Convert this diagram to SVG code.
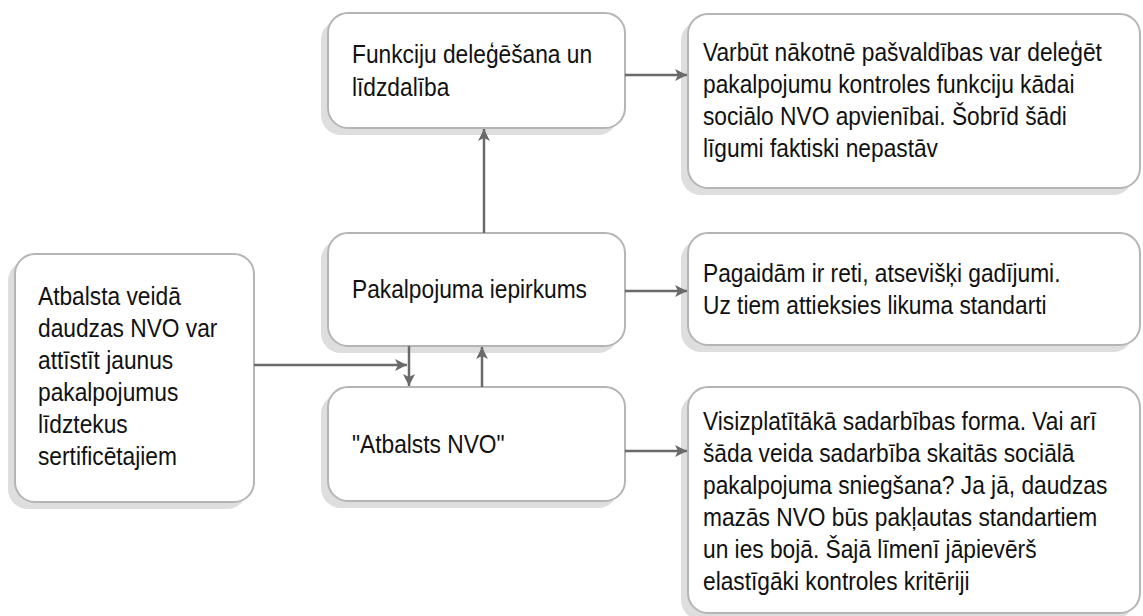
<svg xmlns="http://www.w3.org/2000/svg" width="1143" height="616" viewBox="0 0 1143 616">
<defs>
<style>
.shadow{fill:#dedede;stroke:none}
.box{fill:#ffffff;stroke:#b5b5b5;stroke-width:2}
.t{font-family:"Liberation Sans",Arial,sans-serif;font-size:26px;fill:#111111}
.c{stroke:#6a6a6a;stroke-width:2.5;fill:none}
</style>
<marker id="ah" viewBox="0 0 12 12" refX="12" refY="6" markerWidth="12" markerHeight="12" markerUnits="userSpaceOnUse" orient="auto">
<path d="M0,0 L12,6 L0,12 L3,6 Z" fill="#6a6a6a"/>
</marker>
</defs>
<rect width="1143" height="616" fill="#ffffff"/>

<g id="n-left">
<rect class="shadow" x="8" y="261" width="239" height="248" rx="20"/>
<rect class="box" x="15" y="254" width="239" height="248" rx="20"/>
<g transform="translate(38,0) scale(0.875,1)">
<text class="t" x="0" y="305"><tspan x="0">Atbalsta veidā</tspan><tspan x="0" dy="32">daudzas NVO var</tspan><tspan x="0" dy="32">attīstīt jaunus</tspan><tspan x="0" dy="32">pakalpojumus</tspan><tspan x="0" dy="32">līdztekus</tspan><tspan x="0" dy="32">sertificētajiem</tspan></text>
</g>
</g>

<g id="n-funkciju">
<rect class="shadow" x="321" y="20" width="297" height="115" rx="20"/>
<rect class="box" x="328" y="13" width="297" height="115" rx="20"/>
<g transform="translate(352,0) scale(0.875,1)">
<text class="t" x="0" y="63"><tspan x="0">Funkciju deleģēšana un</tspan><tspan x="0" dy="33">līdzdalība</tspan></text>
</g>
</g>

<g id="n-pakalpojuma">
<rect class="shadow" x="321" y="240" width="297" height="113" rx="20"/>
<rect class="box" x="328" y="233" width="297" height="113" rx="20"/>
<g transform="translate(352,0) scale(0.875,1)">
<text class="t" x="0" y="298">Pakalpojuma iepirkums</text>
</g>
</g>

<g id="n-atbalsts">
<rect class="shadow" x="321" y="394" width="297" height="114" rx="20"/>
<rect class="box" x="328" y="387" width="297" height="114" rx="20"/>
<g transform="translate(352,0) scale(0.875,1)">
<text class="t" x="0" y="453">"Atbalsts NVO"</text>
</g>
</g>

<g id="n-right-top">
<rect class="shadow" x="681" y="21" width="452" height="174" rx="20"/>
<rect class="box" x="688" y="14" width="452" height="174" rx="20"/>
<g transform="translate(703,0) scale(0.875,1)">
<text class="t" x="0" y="61"><tspan x="0">Varbūt nākotnē pašvaldības var deleģēt</tspan><tspan x="0" dy="32">pakalpojumu kontroles funkciju kādai</tspan><tspan x="0" dy="32">sociālo NVO apvienībai. Šobrīd šādi</tspan><tspan x="0" dy="32">līgumi faktiski nepastāv</tspan></text>
</g>
</g>

<g id="n-right-mid">
<rect class="shadow" x="681" y="240" width="452" height="112" rx="20"/>
<rect class="box" x="688" y="233" width="452" height="112" rx="20"/>
<g transform="translate(703,0) scale(0.875,1)">
<text class="t" x="0" y="282"><tspan x="0">Pagaidām ir reti, atsevišķi gadījumi.</tspan><tspan x="0" dy="32">Uz tiem attieksies likuma standarti</tspan></text>
</g>
</g>

<g id="n-right-bot">
<rect class="shadow" x="681" y="394" width="452" height="226" rx="20"/>
<rect class="box" x="688" y="387" width="452" height="226" rx="20"/>
<g transform="translate(703,0) scale(0.875,1)">
<text class="t" x="0" y="430"><tspan x="0">Visizplatītākā sadarbības forma. Vai arī</tspan><tspan x="0" dy="32">šāda veida sadarbība skaitās sociālā</tspan><tspan x="0" dy="32">pakalpojuma sniegšana? Ja jā, daudzas</tspan><tspan x="0" dy="32">mazās NVO būs pakļautas standartiem</tspan><tspan x="0" dy="32">un ies bojā. Šajā līmenī jāpievērš</tspan><tspan x="0" dy="32">elastīgāki kontroles kritēriji</tspan></text>
</g>
</g>

<g id="connectors">
<line class="c" x1="625" y1="75" x2="687" y2="75" marker-end="url(#ah)"/>
<line class="c" x1="625" y1="291" x2="687" y2="291" marker-end="url(#ah)"/>
<line class="c" x1="625" y1="451" x2="687" y2="451" marker-end="url(#ah)"/>
<line class="c" x1="484" y1="233" x2="484" y2="129" marker-end="url(#ah)"/>
<line class="c" x1="254" y1="365" x2="407" y2="365" marker-end="url(#ah)"/>
<line class="c" x1="409" y1="346" x2="409" y2="386" marker-end="url(#ah)"/>
<line class="c" x1="482" y1="387" x2="482" y2="347" marker-end="url(#ah)"/>
</g>
</svg>
